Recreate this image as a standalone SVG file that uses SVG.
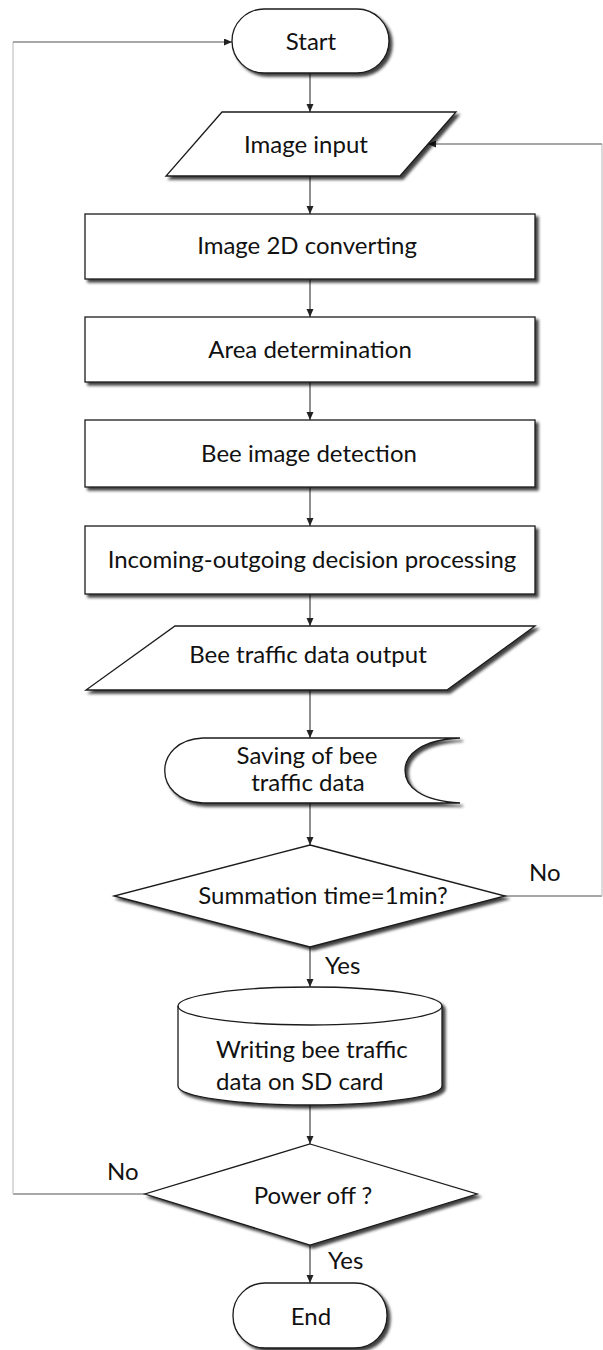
<svg xmlns="http://www.w3.org/2000/svg" width="603" height="1350" viewBox="0 0 603 1350">
  <defs>
    <filter id="shadow" x="-10%" y="-10%" width="125%" height="130%">
      <feDropShadow dx="3" dy="3" stdDeviation="1.4" flood-color="#000" flood-opacity="0.75"/>
    </filter>
    <marker id="arrow" markerWidth="9" markerHeight="8" refX="8" refY="3.5" orient="auto" markerUnits="userSpaceOnUse">
      <path d="M0,0 L8,3.5 L0,7 z" fill="#222"/>
    </marker>
  </defs>
  <style>
    .shape { fill: #fff; stroke: #1a1a1a; stroke-width: 1.3; filter: url(#shadow); }
    .flow { fill: none; stroke: #333; stroke-width: 1.1; }
    .loop { fill: none; stroke: #8a8a8a; stroke-width: 1.3; }
    .loopv { fill: none; stroke: #c8c8c8; stroke-width: 1.3; }
    text { font-family: Lato, "Open Sans", "Liberation Sans", sans-serif; font-size: 24px; fill: #111; text-anchor: middle; }
    .lbl { text-anchor: start; }
  </style>
  <rect width="603" height="1350" fill="#fff"/>

  <!-- connectors -->
  <g id="connectors">
    <line class="flow" x1="310" y1="73" x2="310" y2="112" marker-end="url(#arrow)"/>
    <line class="flow" x1="310" y1="176" x2="310" y2="214" marker-end="url(#arrow)"/>
    <line class="flow" x1="310" y1="279" x2="310" y2="317" marker-end="url(#arrow)"/>
    <line class="flow" x1="310" y1="382" x2="310" y2="420" marker-end="url(#arrow)"/>
    <line class="flow" x1="310" y1="487" x2="310" y2="526" marker-end="url(#arrow)"/>
    <line class="flow" x1="310" y1="594" x2="310" y2="626" marker-end="url(#arrow)"/>
    <line class="flow" x1="310" y1="690" x2="310" y2="738" marker-end="url(#arrow)"/>
    <line class="flow" x1="310" y1="803" x2="310" y2="845" marker-end="url(#arrow)"/>
    <line class="flow" x1="310" y1="947" x2="310" y2="987" marker-end="url(#arrow)"/>
    <line class="flow" x1="310" y1="1105" x2="310" y2="1144" marker-end="url(#arrow)"/>
    <line class="flow" x1="310" y1="1245" x2="310" y2="1283" marker-end="url(#arrow)"/>
    <!-- "No" loop back to image input -->
    <line class="loop" x1="505" y1="896" x2="602" y2="896"/>
    <line class="loopv" x1="602" y1="896" x2="602" y2="144"/>
    <line class="loop" x1="602" y1="144" x2="428" y2="144" marker-end="url(#arrow)"/>
    <!-- "No" loop back to start -->
    <line class="loop" x1="145" y1="1194" x2="13" y2="1194"/>
    <line class="loopv" x1="13" y1="1194" x2="13" y2="42"/>
    <line class="loop" x1="13" y1="42" x2="232" y2="42" marker-end="url(#arrow)"/>
  </g>

  <g id="start">
    <rect class="shape" x="232" y="9" width="157" height="64" rx="32" ry="32"/>
    <text x="311" y="50">Start</text>
  </g>

  <g id="image-input">
    <polygon class="shape" points="222,112 456,112 400,176 166,176"/>
    <text x="306" y="153">Image input</text>
  </g>

  <g id="image-2d">
    <rect class="shape" x="85" y="214" width="450" height="65"/>
    <text x="307" y="254">Image 2D converting</text>
  </g>

  <g id="area">
    <rect class="shape" x="85" y="317" width="450" height="65"/>
    <text x="310" y="358">Area determination</text>
  </g>

  <g id="bee-detect">
    <rect class="shape" x="85" y="420" width="450" height="67"/>
    <text x="309" y="462">Bee image detection</text>
  </g>

  <g id="in-out">
    <rect class="shape" x="85" y="526" width="450" height="68"/>
    <text x="312" y="568">Incoming-outgoing decision processing</text>
  </g>

  <g id="traffic-output">
    <polygon class="shape" points="175,626 535,626 447,690 86,690"/>
    <text x="308" y="663">Bee traffic data output</text>
  </g>

  <g id="saving">
    <path class="shape" d="M203,738 L460,738 C420,740 405,755 405,770.5 C405,786 420,801 460,803 L203,803 C152,801 152,740 203,738 Z"/>
    <text x="307" y="764" font-size="23">Saving of bee</text>
    <text x="308" y="791" font-size="23">traffic data</text>
  </g>

  <g id="summation">
    <polygon class="shape" points="310,845 505,896 310,947 114,896"/>
    <text x="323" y="904">Summation time=1min?</text>
    <text class="lbl" x="529" y="881">No</text>
    <text class="lbl" x="325" y="974">Yes</text>
  </g>

  <g id="sd-card">
    <path class="shape" d="M178,1006 A132,19 0 0 1 442,1006 L442,1086 A132,19 0 0 1 178,1086 Z"/>
    <path d="M178,1006 A132,19 0 0 0 442,1006" fill="none" stroke="#1a1a1a" stroke-width="1.3"/>
    <text class="lbl" x="216" y="1058">Writing bee traffic</text>
    <text class="lbl" x="216" y="1090">data on SD card</text>
  </g>

  <g id="power-off">
    <polygon class="shape" points="310,1144 477,1194 310,1245 145,1194"/>
    <text x="313" y="1204">Power off ?</text>
    <text class="lbl" x="107" y="1180">No</text>
    <text class="lbl" x="328" y="1269">Yes</text>
  </g>

  <g id="end">
    <rect class="shape" x="233" y="1283" width="154" height="65" rx="32" ry="32"/>
    <text x="311" y="1325">End</text>
  </g>
</svg>
